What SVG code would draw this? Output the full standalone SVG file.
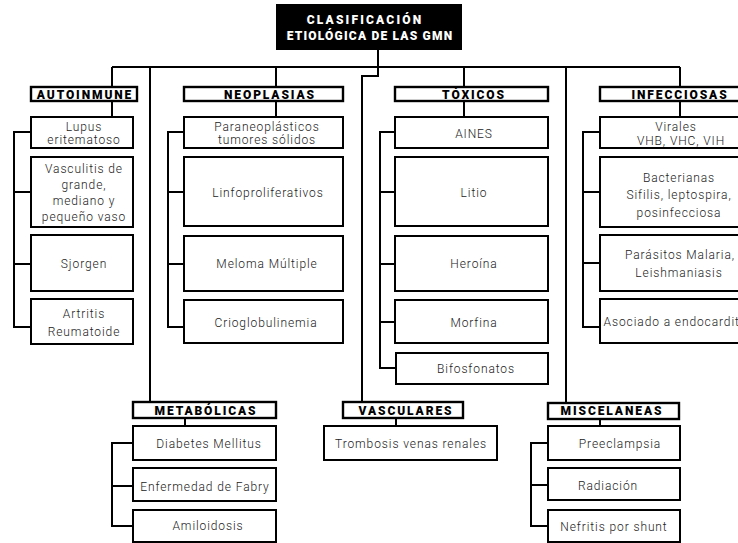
<svg xmlns="http://www.w3.org/2000/svg" width="738" height="543" viewBox="0 0 738 543">
  <style>
    .bg { fill: #ffffff; }
    .box { fill: #ffffff; stroke: #000000; stroke-width: 2; }
    .cat { fill: #ffffff; stroke: #000000; stroke-width: 2.4; }
    .root { fill: #000000; }
    .wire { fill: none; stroke: #000000; stroke-width: 2; }
    .t { font-family: Roboto, "Liberation Sans", sans-serif; font-size: 12px; font-weight: 300; fill: #222222; letter-spacing: 0.9px; text-anchor: middle; }
    .ct { font-family: Roboto, "Liberation Sans", sans-serif; font-size: 12px; font-weight: 900; fill: #000000; letter-spacing: 1.9px; text-anchor: middle; }
    .rt { font-family: Roboto, "Liberation Sans", sans-serif; font-size: 12px; font-weight: 900; fill: #ffffff; text-anchor: middle; }
  </style>
  <rect class="bg" x="0" y="0" width="738" height="543"/>

  <!-- connectors -->
  <g id="connectors">
    <!-- main bus -->
    <path class="wire" d="M112 67 H680"/>
    <path class="wire" d="M378 50 V76 H362 V401"/>
    <path class="wire" d="M112 67 V87 M150 67 V402 M276 67 V87 M464 67 V87 M566 67 V403 M680 67 V87"/>
    <!-- category to first item -->
    <path class="wire" d="M112 101 V117 M276 101 V117 M464 101 V117 M680 101 V117"/>
    <path class="wire" d="M185 418 V426 M396 418 V426 M600 419 V426"/>
    <!-- autoinmune -->
    <path class="wire" d="M31 132 H14 V327 H31 M14 192 H31 M14 264 H31"/>
    <!-- neoplasias -->
    <path class="wire" d="M184 132 H168 V327 H184 M168 192 H184 M168 264 H184"/>
    <!-- toxicos -->
    <path class="wire" d="M395 132 H380 V368 H396 M380 192 H395 M380 264 H395 M380 322 H395"/>
    <!-- infecciosas -->
    <path class="wire" d="M600 132 H583 V327 H600 M583 192 H600 M583 263 H600"/>
    <!-- metabolicas -->
    <path class="wire" d="M133 443 H112 V526 H133 M112 486 H133"/>
    <!-- miscelaneas -->
    <path class="wire" d="M548 443 H531 V526 H548 M531 485 H548"/>
  </g>

  <!-- root -->
  <g id="root">
    <rect class="root" x="276" y="4" width="186" height="46"/>
    <text class="rt" x="365" y="24" letter-spacing="2.2">CLASIFICACIÓN</text>
    <text class="rt" x="370" y="40" letter-spacing="1.2">ETIOLÓGICA DE LAS GMN</text>
  </g>

  <!-- AUTOINMUNE -->
  <g id="autoinmune">
    <rect class="cat" x="31" y="87" width="106" height="14"/>
    <text class="ct" x="85" y="99">AUTOINMUNE</text>
  </g>
  <g id="lupus">
    <rect class="box" x="31" y="117" width="102" height="31"/>
    <text class="t" x="84" y="131">Lupus</text>
    <text class="t" x="84" y="144">eritematoso</text>
  </g>
  <g id="vasculitis">
    <rect class="box" x="31" y="157" width="102" height="70"/>
    <text class="t" x="84" y="173">Vasculitis de</text>
    <text class="t" x="84" y="189">grande,</text>
    <text class="t" x="84" y="205">mediano y</text>
    <text class="t" x="84" y="221">pequeño vaso</text>
  </g>
  <g id="sjorgen">
    <rect class="box" x="31" y="235" width="102" height="56"/>
    <text class="t" x="84" y="268">Sjorgen</text>
  </g>
  <g id="artritis">
    <rect class="box" x="31" y="299" width="102" height="45"/>
    <text class="t" x="84" y="318">Artritis</text>
    <text class="t" x="84" y="336">Reumatoide</text>
  </g>

  <!-- NEOPLASIAS -->
  <g id="neoplasias">
    <rect class="cat" x="184" y="87" width="159" height="14"/>
    <text class="ct" x="270" y="99">NEOPLASIAS</text>
  </g>
  <g id="paraneoplasicos">
    <rect class="box" x="184" y="117" width="159" height="31"/>
    <text class="t" x="267" y="131">Paraneoplásticos</text>
    <text class="t" x="267" y="144">tumores sólidos</text>
  </g>
  <g id="linfoproliferativos">
    <rect class="box" x="184" y="157" width="159" height="69"/>
    <text class="t" x="268" y="197">Linfoproliferativos</text>
  </g>
  <g id="meloma">
    <rect class="box" x="184" y="236" width="159" height="55"/>
    <text class="t" x="267" y="268">Meloma Múltiple</text>
  </g>
  <g id="crioglobulinemia">
    <rect class="box" x="184" y="300" width="159" height="43"/>
    <text class="t" x="266" y="327">Crioglobulinemia</text>
  </g>

  <!-- TÓXICOS -->
  <g id="toxicos">
    <rect class="cat" x="395" y="87" width="153" height="14"/>
    <text class="ct" x="474" y="99">TÓXICOS</text>
  </g>
  <g id="aines">
    <rect class="box" x="395" y="117" width="153" height="31"/>
    <text class="t" x="474" y="138">AINES</text>
  </g>
  <g id="litio">
    <rect class="box" x="395" y="157" width="153" height="69"/>
    <text class="t" x="474" y="197">Litio</text>
  </g>
  <g id="heroina">
    <rect class="box" x="395" y="236" width="153" height="55"/>
    <text class="t" x="474" y="268">Heroína</text>
  </g>
  <g id="morfina">
    <rect class="box" x="395" y="300" width="153" height="43"/>
    <text class="t" x="474" y="327">Morfina</text>
  </g>
  <g id="bifosfonatos">
    <rect class="box" x="396" y="353" width="152" height="31"/>
    <text class="t" x="476" y="373">Bifosfonatos</text>
  </g>

  <!-- INFECCIOSAS -->
  <g id="infecciosas">
    <rect class="cat" x="600" y="87" width="170" height="14"/>
    <text class="ct" x="680" y="99">INFECCIOSAS</text>
  </g>
  <g id="virales">
    <rect class="box" x="600" y="117" width="170" height="31"/>
    <text class="t" x="676" y="131">Virales</text>
    <text class="t" x="681" y="145">VHB, VHC, VIH</text>
  </g>
  <g id="bacterianas">
    <rect class="box" x="600" y="157" width="170" height="70"/>
    <text class="t" x="679" y="182">Bacterianas</text>
    <text class="t" x="679" y="199">Sifilis, leptospira,</text>
    <text class="t" x="679" y="217">posinfecciosa</text>
  </g>
  <g id="parasitos">
    <rect class="box" x="600" y="235" width="170" height="56"/>
    <text class="t" x="680" y="259">Parásitos Malaria,</text>
    <text class="t" x="679" y="277">Leishmaniasis</text>
  </g>
  <g id="endocarditis">
    <rect class="box" x="600" y="299" width="170" height="44"/>
    <text class="t" x="677" y="326">Asociado a endocarditis</text>
  </g>

  <!-- METABÓLICAS -->
  <g id="metabolicas">
    <rect class="cat" x="133" y="402" width="143" height="16"/>
    <text class="ct" x="206" y="415">METABÓLICAS</text>
  </g>
  <g id="diabetes">
    <rect class="box" x="133" y="426" width="143" height="34"/>
    <text class="t" x="209" y="448">Diabetes Mellitus</text>
  </g>
  <g id="fabry">
    <rect class="box" x="133" y="468" width="143" height="33"/>
    <text class="t" x="205" y="491">Enfermedad de Fabry</text>
  </g>
  <g id="amiloidosis">
    <rect class="box" x="133" y="510" width="143" height="32"/>
    <text class="t" x="208" y="530">Amiloidosis</text>
  </g>

  <!-- VASCULARES -->
  <g id="vasculares">
    <rect class="cat" x="343" y="402" width="120" height="16"/>
    <text class="ct" x="406" y="415">VASCULARES</text>
  </g>
  <g id="trombosis">
    <rect class="box" x="324" y="426" width="173" height="34"/>
    <text class="t" x="411" y="448">Trombosis venas renales</text>
  </g>

  <!-- MISCELANEAS -->
  <g id="miscelaneas">
    <rect class="cat" x="548" y="403" width="131" height="16"/>
    <text class="ct" x="612" y="415">MISCELANEAS</text>
  </g>
  <g id="preeclampsia">
    <rect class="box" x="548" y="426" width="132" height="34"/>
    <text class="t" x="620" y="448">Preeclampsia</text>
  </g>
  <g id="radiacion">
    <rect class="box" x="548" y="468" width="132" height="32"/>
    <text class="t" x="608" y="490">Radiación</text>
  </g>
  <g id="shunt">
    <rect class="box" x="548" y="510" width="132" height="32"/>
    <text class="t" x="614" y="531">Nefritis por shunt</text>
  </g>
</svg>
